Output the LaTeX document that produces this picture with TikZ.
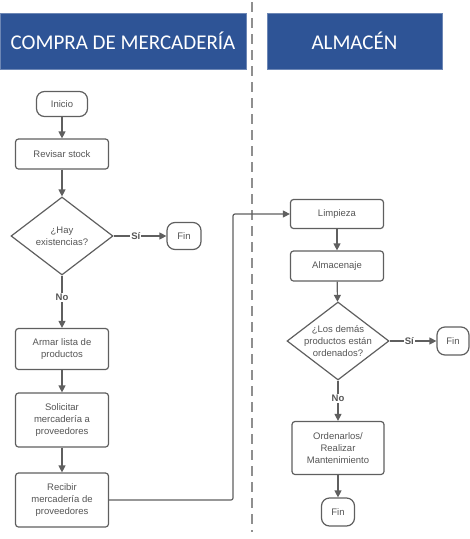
\documentclass[tikz,border=0pt]{standalone}
\usepackage{fontspec}
\setmainfont{Liberation Sans}
\newfontfamily\headfont{Carlito}
\usetikzlibrary{shapes.geometric,arrows.meta}
\definecolor{laneblue}{RGB}{46,84,150}
\definecolor{linegray}{RGB}{95,95,95}
\definecolor{textgray}{RGB}{85,85,85}

\begin{document}
\begin{tikzpicture}[x=1pt, y=-1pt,
    header/.style={fill=laneblue, draw=laneblue!70!white, text=white,
        font=\headfont\fontsize{21}{24}\selectfont, minimum height=56pt, inner sep=0pt},
    process/.style={draw=linegray, line width=1.2pt, rounded corners=3pt, text=textgray,
        align=center, font=\fontsize{9.5}{12}\selectfont, minimum width=93pt, inner sep=0pt},
    terminal/.style={draw=linegray, line width=1.2pt, rounded corners=8pt, text=textgray,
        font=\fontsize{9.5}{12}\selectfont, inner sep=0pt},
    decision/.style={diamond, draw=linegray, line width=1.2pt, text=textgray, align=center,
        font=\fontsize{9.5}{12}\selectfont, minimum width=102pt, minimum height=78pt, inner sep=-10pt},
    flow/.style={draw=linegray, line width=1.2pt, -{Triangle[width=7pt,length=7pt]}},
    answer/.style={fill=white, text=textgray, font=\bfseries\fontsize{9.5}{12}\selectfont, inner sep=1pt}]
    \useasboundingbox (0,0) rectangle (470,539);

    % carriles
    \node[header, minimum width=246pt] (hcompra) at (123,41) {COMPRA DE MERCADERÍA};
    \node[header, minimum width=175pt] (halmacen) at (354.5,41) {ALMACÉN};
    \draw[linegray!70, line width=1.2pt, dash pattern=on 10pt off 6pt] (252,2) -- (252,532);

    % compra de mercaderia
    \node[terminal, minimum width=51pt, minimum height=25pt] (inicio) at (62,104) {Inicio};
    \node[process, minimum height=30pt] (stock) at (62,154) {Revisar stock};
    \node[decision] (hay) at (62,236) {¿Hay\\existencias?};
    \node[terminal, minimum width=34pt, minimum height=27pt] (fin1) at (184,236) {Fin};
    \node[process, minimum height=41pt] (lista) at (62,349) {Armar lista de\\productos};
    \node[process, minimum height=54pt] (solicitar) at (62,420) {Solicitar\\mercadería a\\proveedores};
    \node[process, minimum height=54pt] (recibir) at (62,500) {Recibir\\mercadería de\\proveedores};

    \draw[flow] (inicio) -- (stock);
    \draw[flow] (stock) -- (hay);
    \draw[flow] (hay) -- node[answer, pos=0.42] {Sí} (fin1);
    \draw[flow] (hay) -- node[answer, pos=0.42] {No} (lista);
    \draw[flow] (lista) -- (solicitar);
    \draw[flow] (solicitar) -- (recibir);

    % almacen
    \node[process, minimum height=29pt] (limpieza) at (337,214) {Limpieza};
    \node[process, minimum height=30pt] (almacenaje) at (337,266) {Almacenaje};
    \node[decision] (ordenados) at (338,341) {¿Los demás\\productos están\\ordenados?};
    \node[terminal, minimum width=32pt, minimum height=28pt] (fin2) at (453,341) {Fin};
    \node[process, minimum width=92pt, minimum height=53pt] (ordenar) at (338,448) {Ordenarlos/\\Realizar\\Mantenimiento};
    \node[terminal, minimum width=33pt, minimum height=28pt] (fin3) at (338,512) {Fin};

    \coordinate (giro) at (233,214);
    \draw[flow, rounded corners=2pt] (recibir.east) -| (giro) -- (limpieza.west);
    \draw[flow] (limpieza) -- (almacenaje);
    \draw[flow] (almacenaje) -- (ordenados);
    \draw[flow] (ordenados) -- node[answer, pos=0.42] {Sí} (fin2);
    \draw[flow] (ordenados) -- node[answer, pos=0.45] {No} (ordenar);
    \draw[flow] (ordenar) -- (fin3);
\end{tikzpicture}
\end{document}
